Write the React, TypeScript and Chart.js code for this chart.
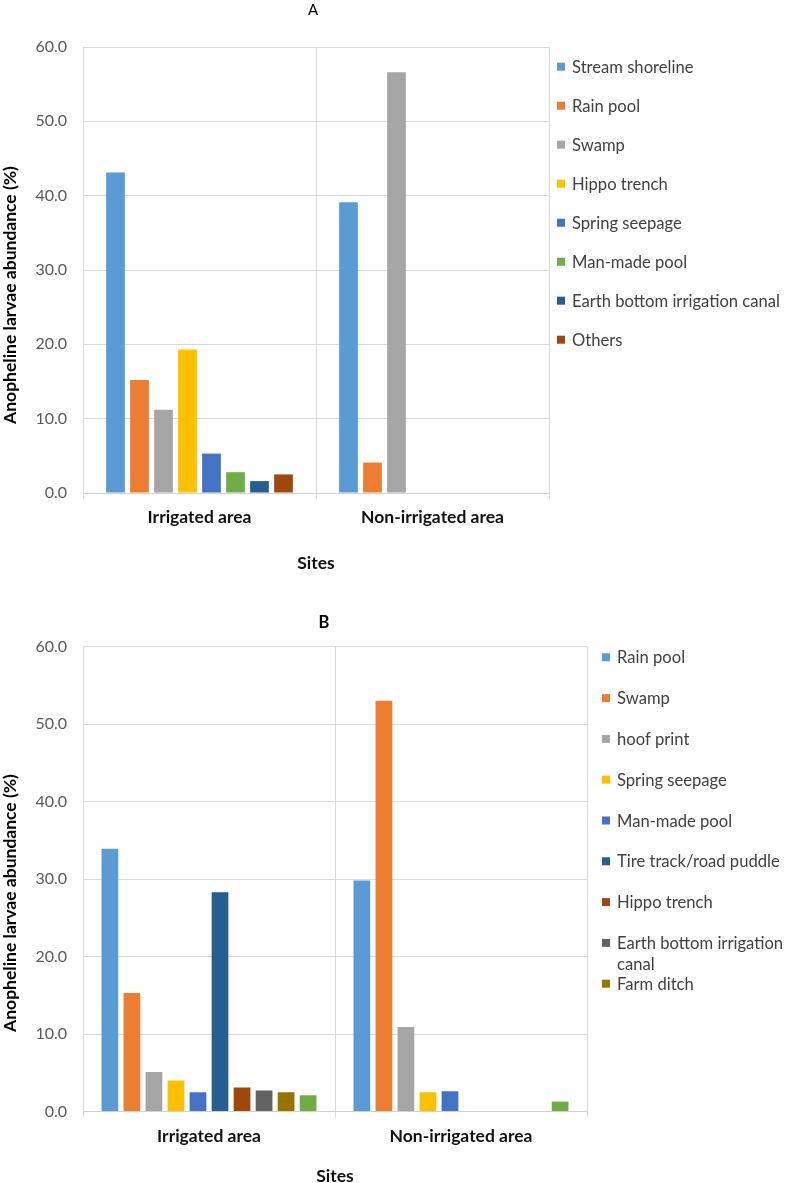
import React, { useEffect, useRef } from "react";
import { Chart, registerables } from "chart.js";

Chart.register(...registerables);

// ---------- data ----------
const sites = ["Irrigated area", "Non-irrigated area"];

const habitatsA = [
  "Stream shoreline",
  "Rain pool",
  "Swamp",
  "Hippo trench",
  "Spring seepage",
  "Man-made pool",
  "Earth bottom irrigation canal",
  "Others",
];
const irrigatedA = [43.1, 15.2, 11.2, 19.3, 5.3, 2.8, 1.6, 2.5];
const nonIrrigatedA = [39.1, 4.1, 56.6, 0, 0, 0, 0, 0];
const colorsA = ["#5B9BD5", "#ED7D31", "#A5A5A5", "#FFC000", "#4472C4", "#70AD47", "#255E91", "#9E480E"];

const habitatsB = [
  "Rain pool",
  "Swamp",
  "hoof print",
  "Spring seepage",
  "Man-made pool",
  "Tire track/road puddle",
  "Hippo trench",
  "Earth bottom irrigation canal",
  "Farm ditch",
  "Others",
];
const irrigatedB = [33.9, 15.3, 5.1, 4.0, 2.5, 28.3, 3.1, 2.7, 2.5, 2.1];
const nonIrrigatedB = [29.8, 53.0, 10.9, 2.5, 2.6, 0, 0, 0, 0, 1.3];
const colorsB = ["#5B9BD5", "#ED7D31", "#A5A5A5", "#FFC000", "#4472C4", "#255E91", "#9E480E", "#636363", "#997300", "#70AD47"];
const legendCountB = 9; // the last entry is cut off in the original legend

const yMin = 0;
const yMax = 60;
const yStep = 10;
const yTitle = "Anopheline larvae abundance (%)";
const xTitle = "Sites";

const FONT = "Lato, 'Open Sans', sans-serif";
const GRID = "#D9D9D9";

type Spec = {
  width: number;
  height: number;
  title: string;
  titleBold: boolean;
  titleSize: number;
  titleX: number;
  titleBaseline: number;
  padTop: number;
  padRight: number;
  yAxisWidth: number;
  xAxisHeight: number;
  xTitlePadBottom: number;
  catPct: number;
  barPct: number;
  labels: string[];
  irrigated: number[];
  nonIrrigated: number[];
  colors: string[];
  legendCount: number;
  legendX: number;
  legendY0: number;
  legendStep: number;
  yTitleOffset: number;
};

function makeOverlay(spec: Spec) {
  return {
    id: "overlay",
    afterDraw(chart: any) {
      const ctx = chart.ctx as CanvasRenderingContext2D;
      const area = chart.chartArea;
      ctx.save();
      // chart title
      ctx.fillStyle = "#000";
      ctx.font = `${spec.titleBold ? "bold " : ""}${spec.titleSize}px ${FONT}`;
      ctx.textAlign = "center";
      ctx.textBaseline = "alphabetic";
      ctx.fillText(spec.title, spec.titleX, spec.titleBaseline);

      // y-axis title
      ctx.save();
      ctx.translate(10, (area.top + area.bottom) / 2 + spec.yTitleOffset);
      ctx.rotate(-Math.PI / 2);
      ctx.font = `bold 17.5px ${FONT}`;
      ctx.textAlign = "center";
      ctx.textBaseline = "middle";
      ctx.fillStyle = "#000";
      ctx.fillText(yTitle, 0, 0);
      ctx.restore();

      // legend
      ctx.font = `16.6px ${FONT}`;
      ctx.textAlign = "left";
      ctx.textBaseline = "alphabetic";
      const maxW = spec.width - spec.legendX + 8;
      for (let i = 0; i < spec.legendCount; i++) {
        const cy = spec.legendY0 + i * spec.legendStep;
        const ds = chart.data.datasets[i];
        ctx.fillStyle = ds.backgroundColor;
        ctx.fillRect(spec.legendX - 15, cy - 4, 8, 8);
        ctx.fillStyle = "#404040";
        // wrap words
        const words = String(ds.label).split(" ");
        const lines: string[] = [];
        let cur = "";
        for (const w of words) {
          const t = cur ? cur + " " + w : w;
          if (ctx.measureText(t).width > maxW && cur) {
            lines.push(cur);
            cur = w;
          } else cur = t;
        }
        lines.push(cur);
        lines.forEach((ln, k) => ctx.fillText(ln, spec.legendX, cy + 6 + k * 20.7));
      }
      ctx.restore();
    },
  };
}

function makeConfig(spec: Spec): any {
  const datasets = spec.labels.map((lab, i) => ({
    label: lab,
    data: [spec.irrigated[i], spec.nonIrrigated[i]],
    backgroundColor: spec.colors[i],
    borderWidth: 0,
    categoryPercentage: spec.catPct,
    barPercentage: spec.barPct,
  }));
  return {
    type: "bar",
    data: { labels: sites, datasets },
    options: {
      responsive: false,
      maintainAspectRatio: false,
      animation: false,
      layout: { padding: { top: spec.padTop, right: spec.padRight, left: 0, bottom: 0 } },
      plugins: {
        legend: { display: false },
        title: { display: false },
        tooltip: { enabled: false },
      },
      scales: {
        x: {
          grid: { color: GRID, offset: true, drawTicks: true, tickLength: 6, lineWidth: 1 },
          border: { color: "#D0D0D0", width: 1 },
          ticks: { color: "#111", font: { family: FONT, size: 17.5, weight: "bold" }, padding: 8 },
          title: {
            display: true,
            text: xTitle,
            color: "#111",
            font: { family: FONT, size: 17.5, weight: "bold" },
            padding: { top: 0, bottom: spec.xTitlePadBottom },
          },
          afterFit: (s: any) => {
            s.height = spec.xAxisHeight;
          },
        },
        y: {
          min: yMin,
          max: yMax,
          ticks: {
            stepSize: yStep,
            color: "#595959",
            font: { family: FONT, size: 16 },
            padding: 16,
            callback: (v: any) => Number(v).toFixed(1),
          },
          grid: { color: GRID, drawTicks: false, lineWidth: 1 },
          border: { display: false },
          afterFit: (s: any) => {
            s.width = spec.yAxisWidth;
          },
        },
      },
    },
    plugins: [makeOverlay(spec)],
  };
}

const specA: Spec = {
  width: 787,
  height: 580,
  title: "A",
  titleBold: false,
  titleSize: 15,
  titleX: 313,
  titleBaseline: 15,
  padTop: 47,
  padRight: 238,
  yAxisWidth: 83,
  xAxisHeight: 87,
  xTitlePadBottom: 6.5,
  catPct: 0.824,
  barPct: 0.78,
  labels: habitatsA,
  irrigated: irrigatedA,
  nonIrrigated: nonIrrigatedA,
  colors: colorsA,
  legendCount: habitatsA.length,
  legendX: 572,
  legendY0: 66.7,
  legendStep: 39.0,
  yTitleOffset: 25,
};

const specB: Spec = {
  width: 787,
  height: 603,
  title: "B",
  titleBold: true,
  titleSize: 16.5,
  titleX: 324,
  titleBaseline: 48.3,
  padTop: 66.5,
  padRight: 200,
  yAxisWidth: 83,
  xAxisHeight: 71.5,
  xTitlePadBottom: -3.5,
  catPct: 0.874,
  barPct: 0.76,
  labels: habitatsB,
  irrigated: irrigatedB,
  nonIrrigated: nonIrrigatedB,
  colors: colorsB,
  legendCount: legendCountB,
  legendX: 617,
  legendY0: 77.3,
  legendStep: 40.8,
  yTitleOffset: 24,
};

function Panel({ spec, top }: { spec: Spec; top: number }) {
  const ref = useRef<HTMLCanvasElement | null>(null);
  useEffect(() => {
    if (!ref.current) return;
    const chart = new Chart(ref.current, makeConfig(spec));
    return () => chart.destroy();
  }, [spec]);
  return (
    <canvas
      ref={ref}
      width={spec.width}
      height={spec.height}
      style={{ position: "absolute", left: 0, top, width: spec.width, height: spec.height }}
    />
  );
}

export default function App() {
  return (
    <div style={{ position: "fixed", left: 0, top: 0, width: 787, height: 1183, background: "#fff", overflow: "hidden" }}>
      <Panel spec={specA} top={0} />
      <Panel spec={specB} top={580} />
    </div>
  );
}
